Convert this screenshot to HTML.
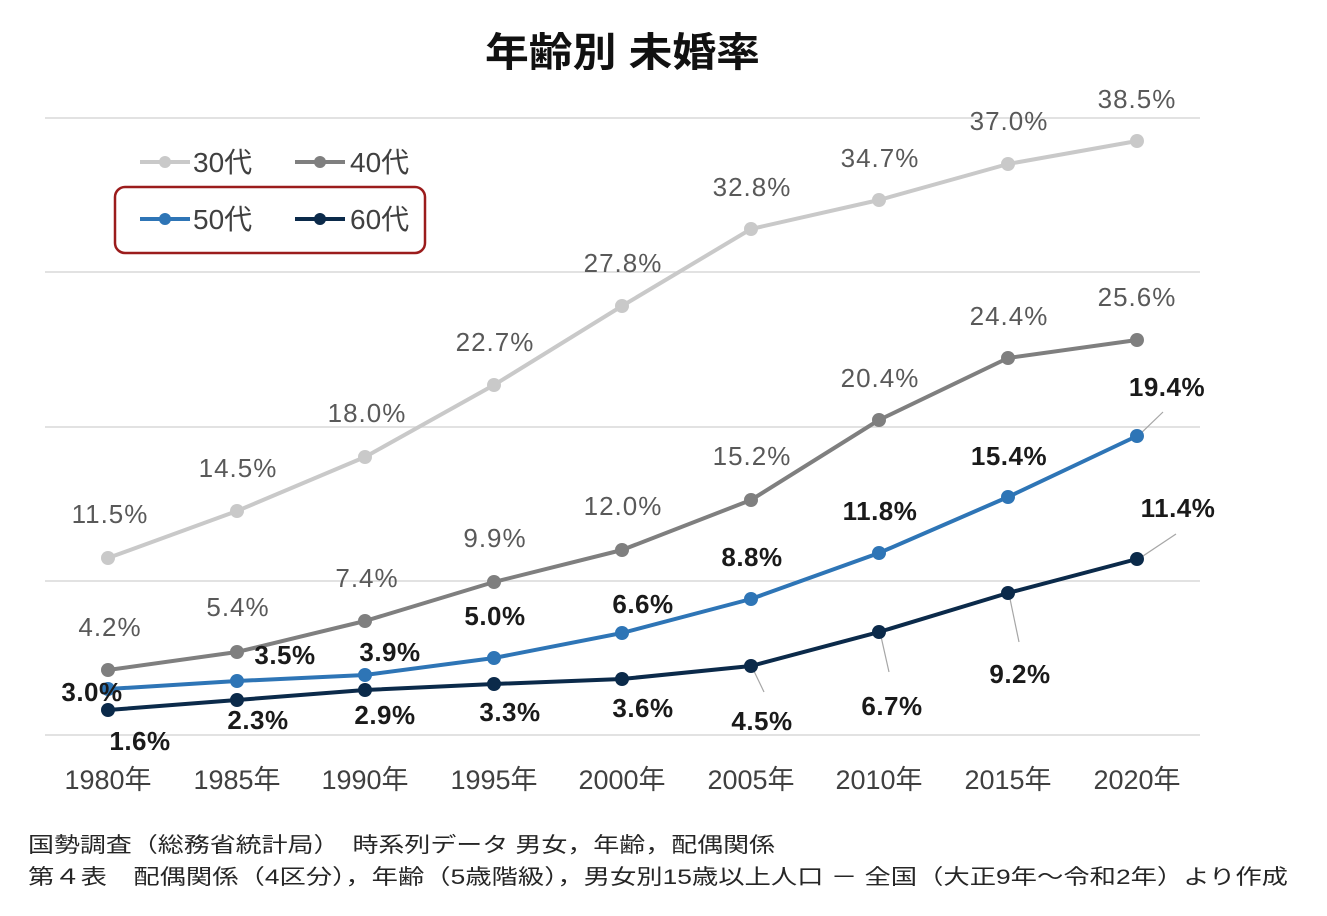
<!DOCTYPE html>
<html><head><meta charset="utf-8"><style>
html,body{margin:0;padding:0;background:#fff;width:1327px;height:916px;overflow:hidden}
text{font-family:"Liberation Sans","Noto Sans CJK JP",sans-serif}
</style></head><body>
<svg width="1327" height="916" xmlns="http://www.w3.org/2000/svg">
<text x="485" y="66" font-size="40" font-weight="bold" fill="#111" textLength="275" lengthAdjust="spacingAndGlyphs">年齢別 未婚率</text>
<g stroke="#d9d9d9" stroke-width="1.5">
<line x1="45" y1="118" x2="1200" y2="118"/><line x1="45" y1="272" x2="1200" y2="272"/>
<line x1="45" y1="427" x2="1200" y2="427"/><line x1="45" y1="581" x2="1200" y2="581"/>
<line x1="45" y1="735" x2="1200" y2="735"/></g>
<g stroke="#a6a6a6" stroke-width="1.2" fill="none">
<line x1="752" y1="667" x2="764" y2="692"/><line x1="880" y1="632" x2="889" y2="672"/>
<line x1="1009" y1="594" x2="1019" y2="642"/><line x1="1137" y1="560" x2="1176" y2="534"/>
<line x1="1137" y1="437" x2="1163" y2="412"/></g>
<g stroke-width="4" fill="none" stroke-linejoin="round">
<polyline stroke="#c9c9c9" points="108,558 237,511 365,457 494,385 622,306 751,229 879,200 1008,164 1137,141"/>
<polyline stroke="#7f7f7f" points="108,670 237,652 365,621 494,582 622,550 751,500 879,420 1008,358 1137,340"/>
<polyline stroke="#2e75b6" points="108,689 237,681 365,675 494,658 622,633 751,599 879,553 1008,497 1137,436"/>
<polyline stroke="#0b2a4a" points="108,710 237,700 365,690 494,684 622,679 751,666 879,632 1008,593 1137,559"/>
</g>
<g fill="#c9c9c9"><circle cx="108" cy="558" r="7"/><circle cx="237" cy="511" r="7"/><circle cx="365" cy="457" r="7"/><circle cx="494" cy="385" r="7"/><circle cx="622" cy="306" r="7"/><circle cx="751" cy="229" r="7"/><circle cx="879" cy="200" r="7"/><circle cx="1008" cy="164" r="7"/><circle cx="1137" cy="141" r="7"/></g>
<g fill="#7f7f7f"><circle cx="108" cy="670" r="7"/><circle cx="237" cy="652" r="7"/><circle cx="365" cy="621" r="7"/><circle cx="494" cy="582" r="7"/><circle cx="622" cy="550" r="7"/><circle cx="751" cy="500" r="7"/><circle cx="879" cy="420" r="7"/><circle cx="1008" cy="358" r="7"/><circle cx="1137" cy="340" r="7"/></g>
<g fill="#2e75b6"><circle cx="108" cy="689" r="7"/><circle cx="237" cy="681" r="7"/><circle cx="365" cy="675" r="7"/><circle cx="494" cy="658" r="7"/><circle cx="622" cy="633" r="7"/><circle cx="751" cy="599" r="7"/><circle cx="879" cy="553" r="7"/><circle cx="1008" cy="497" r="7"/><circle cx="1137" cy="436" r="7"/></g>
<g fill="#0b2a4a"><circle cx="108" cy="710" r="7"/><circle cx="237" cy="700" r="7"/><circle cx="365" cy="690" r="7"/><circle cx="494" cy="684" r="7"/><circle cx="622" cy="679" r="7"/><circle cx="751" cy="666" r="7"/><circle cx="879" cy="632" r="7"/><circle cx="1008" cy="593" r="7"/><circle cx="1137" cy="559" r="7"/></g>
<g font-size="26" fill="#595959" text-anchor="middle" letter-spacing="1">
<text x="110" y="523">11.5%</text><text x="238" y="477">14.5%</text><text x="367" y="422">18.0%</text>
<text x="495" y="351">22.7%</text><text x="623" y="272">27.8%</text><text x="752" y="196">32.8%</text>
<text x="880" y="167">34.7%</text><text x="1009" y="130">37.0%</text><text x="1137" y="108">38.5%</text>
<text x="110" y="636">4.2%</text><text x="238" y="616">5.4%</text><text x="367" y="587">7.4%</text>
<text x="495" y="547">9.9%</text><text x="623" y="515">12.0%</text><text x="752" y="465">15.2%</text>
<text x="880" y="387">20.4%</text><text x="1009" y="325">24.4%</text><text x="1137" y="306">25.6%</text>
</g>
<g font-size="26" font-weight="bold" fill="#1a1a1a" text-anchor="middle" letter-spacing="0.5">
<text x="92" y="701">3.0%</text><text x="285" y="664">3.5%</text><text x="390" y="661">3.9%</text>
<text x="495" y="625">5.0%</text><text x="643" y="613">6.6%</text><text x="752" y="566">8.8%</text>
<text x="880" y="520">11.8%</text><text x="1009" y="465">15.4%</text><text x="1167" y="396">19.4%</text>
<text x="140" y="750">1.6%</text><text x="258" y="729">2.3%</text><text x="385" y="724">2.9%</text>
<text x="510" y="721">3.3%</text><text x="643" y="717">3.6%</text><text x="762" y="730">4.5%</text>
<text x="892" y="715">6.7%</text><text x="1020" y="683">9.2%</text><text x="1178" y="517">11.4%</text>
</g>
<g font-size="27" fill="#404040" text-anchor="middle">
<text x="108" y="789">1980年</text><text x="237" y="789">1985年</text><text x="365" y="789">1990年</text>
<text x="494" y="789">1995年</text><text x="622" y="789">2000年</text><text x="751" y="789">2005年</text>
<text x="879" y="789">2010年</text><text x="1008" y="789">2015年</text><text x="1137" y="789">2020年</text>
</g>
<rect x="115" y="187" width="310" height="66" rx="10" fill="none" stroke="#9b1c1c" stroke-width="2.5"/>
<g stroke-width="4">
<line x1="140" y1="162" x2="190" y2="162" stroke="#c9c9c9"/><circle cx="165" cy="162" r="6" fill="#c9c9c9"/>
<line x1="295" y1="162" x2="345" y2="162" stroke="#7f7f7f"/><circle cx="320" cy="162" r="6" fill="#7f7f7f"/>
<line x1="140" y1="219" x2="190" y2="219" stroke="#2e75b6"/><circle cx="165" cy="219" r="6" fill="#2e75b6"/>
<line x1="295" y1="219" x2="345" y2="219" stroke="#0b2a4a"/><circle cx="320" cy="219" r="6" fill="#0b2a4a"/>
</g>
<g font-size="28" fill="#404040">
<text x="193" y="172">30代</text><text x="350" y="172">40代</text>
<text x="193" y="229">50代</text><text x="350" y="229">60代</text>
</g>
<g font-size="21" fill="#262626">
<text x="28" y="852" textLength="747" lengthAdjust="spacingAndGlyphs">国勢調査（総務省統計局）　時系列データ 男女，年齢，配偶関係</text>
<text x="28" y="884" textLength="1260" lengthAdjust="spacingAndGlyphs">第４表　配偶関係（4区分），年齢（5歳階級），男女別15歳以上人口 － 全国（大正9年～令和2年）より作成</text>
</g>
</svg>
</body></html>
